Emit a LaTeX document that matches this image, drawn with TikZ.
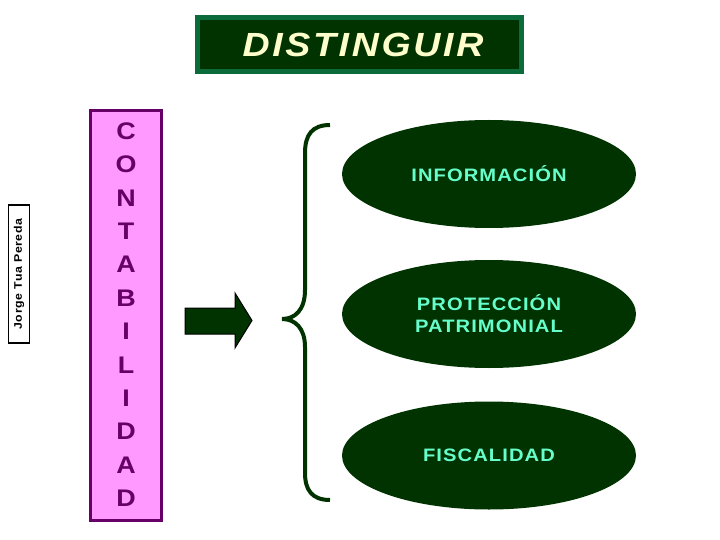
\documentclass[tikz,border=0pt]{standalone}
\usepackage{fontspec}
\setmainfont{Liberation Sans}
\newfontfamily\spaced[FakeStretch=1.12, LetterSpace=6]{Liberation Sans}
\newfontfamily\titlefont[FakeStretch=1.12, LetterSpace=8]{Liberation Sans}
\usepackage{xcolor}
\usepackage{tikz}
\usetikzlibrary{arrows.meta, shapes.geometric}
\definecolor{darkgreen}{HTML}{003300}
\definecolor{framegreen}{HTML}{0B6B3A}
\definecolor{cream}{HTML}{FFFFCC}
\definecolor{mint}{HTML}{66FFCC}
\definecolor{pinkfill}{HTML}{FF99FF}
\definecolor{plum}{HTML}{660066}
\tikzset{
    oval/.style={ellipse, fill=darkgreen, minimum width=294, minimum height=108,
        inner sep=0pt, text=mint, align=center,
        font=\spaced\bfseries\fontsize{18}{22}\selectfont},
    letter/.style={text=plum, font=\spaced\bfseries\fontsize{24}{24}\selectfont},
}

\begin{document}
\begin{tikzpicture}[>=Stealth, x=1pt, y=-1pt]
    \useasboundingbox (0,0) rectangle (720,540);
    % title
    \node[draw=framegreen, line width=5pt, fill=darkgreen, minimum width=324,
        minimum height=54, inner sep=0pt] (title) at (359.5,44.5) {};
    \node[text=cream, font=\titlefont\bfseries\itshape\fontsize{33.5}{34}\selectfont]
        (titletext) at (363,45) {DISTINGUIR};
    % author
    \node[draw=black, line width=1.5pt, rotate=90, minimum width=138, minimum height=21,
        inner sep=0pt, font=\spaced\bfseries\fontsize{11}{11}\selectfont]
        (author) at (19,274) {Jorge Tua Pereda};
    % vertical word
    \node[draw=plum, line width=3pt, fill=pinkfill, minimum width=71, minimum height=410,
        inner sep=0pt] (word) at (126,315.5) {};
    \foreach \ch [count=\i] in {C,O,N,T,A,B,I,L,I,D,A,D}
        \node[letter] (l\i) at (126,97.6+33.4*\i) {\ch};
    % block arrow
    \draw[fill=darkgreen, line width=1pt] (185,308) -- (235,308) -- (235,293) -- (252,320.5)
        -- (235,348) -- (235,334) -- (185,334) -- cycle;
    % brace
    \draw[darkgreen, line width=4pt] (330,125) .. controls (312,125) and (305,135) .. (305,153)
        -- (305,290) .. controls (305,310) and (295,319) .. (282,319)
        .. controls (295,319) and (305,328) .. (305,347)
        -- (305,473) .. controls (305,490) and (312,500) .. (330,500);
    % ovals
    \node[oval] (info) at (489,174) {INFORMACIÓN};
    \node[oval] (patr) at (489,314) {PROTECCIÓN\\PATRIMONIAL};
    \node[oval] (fisc) at (489,455.5) {FISCALIDAD};
\end{tikzpicture}
\end{document}
